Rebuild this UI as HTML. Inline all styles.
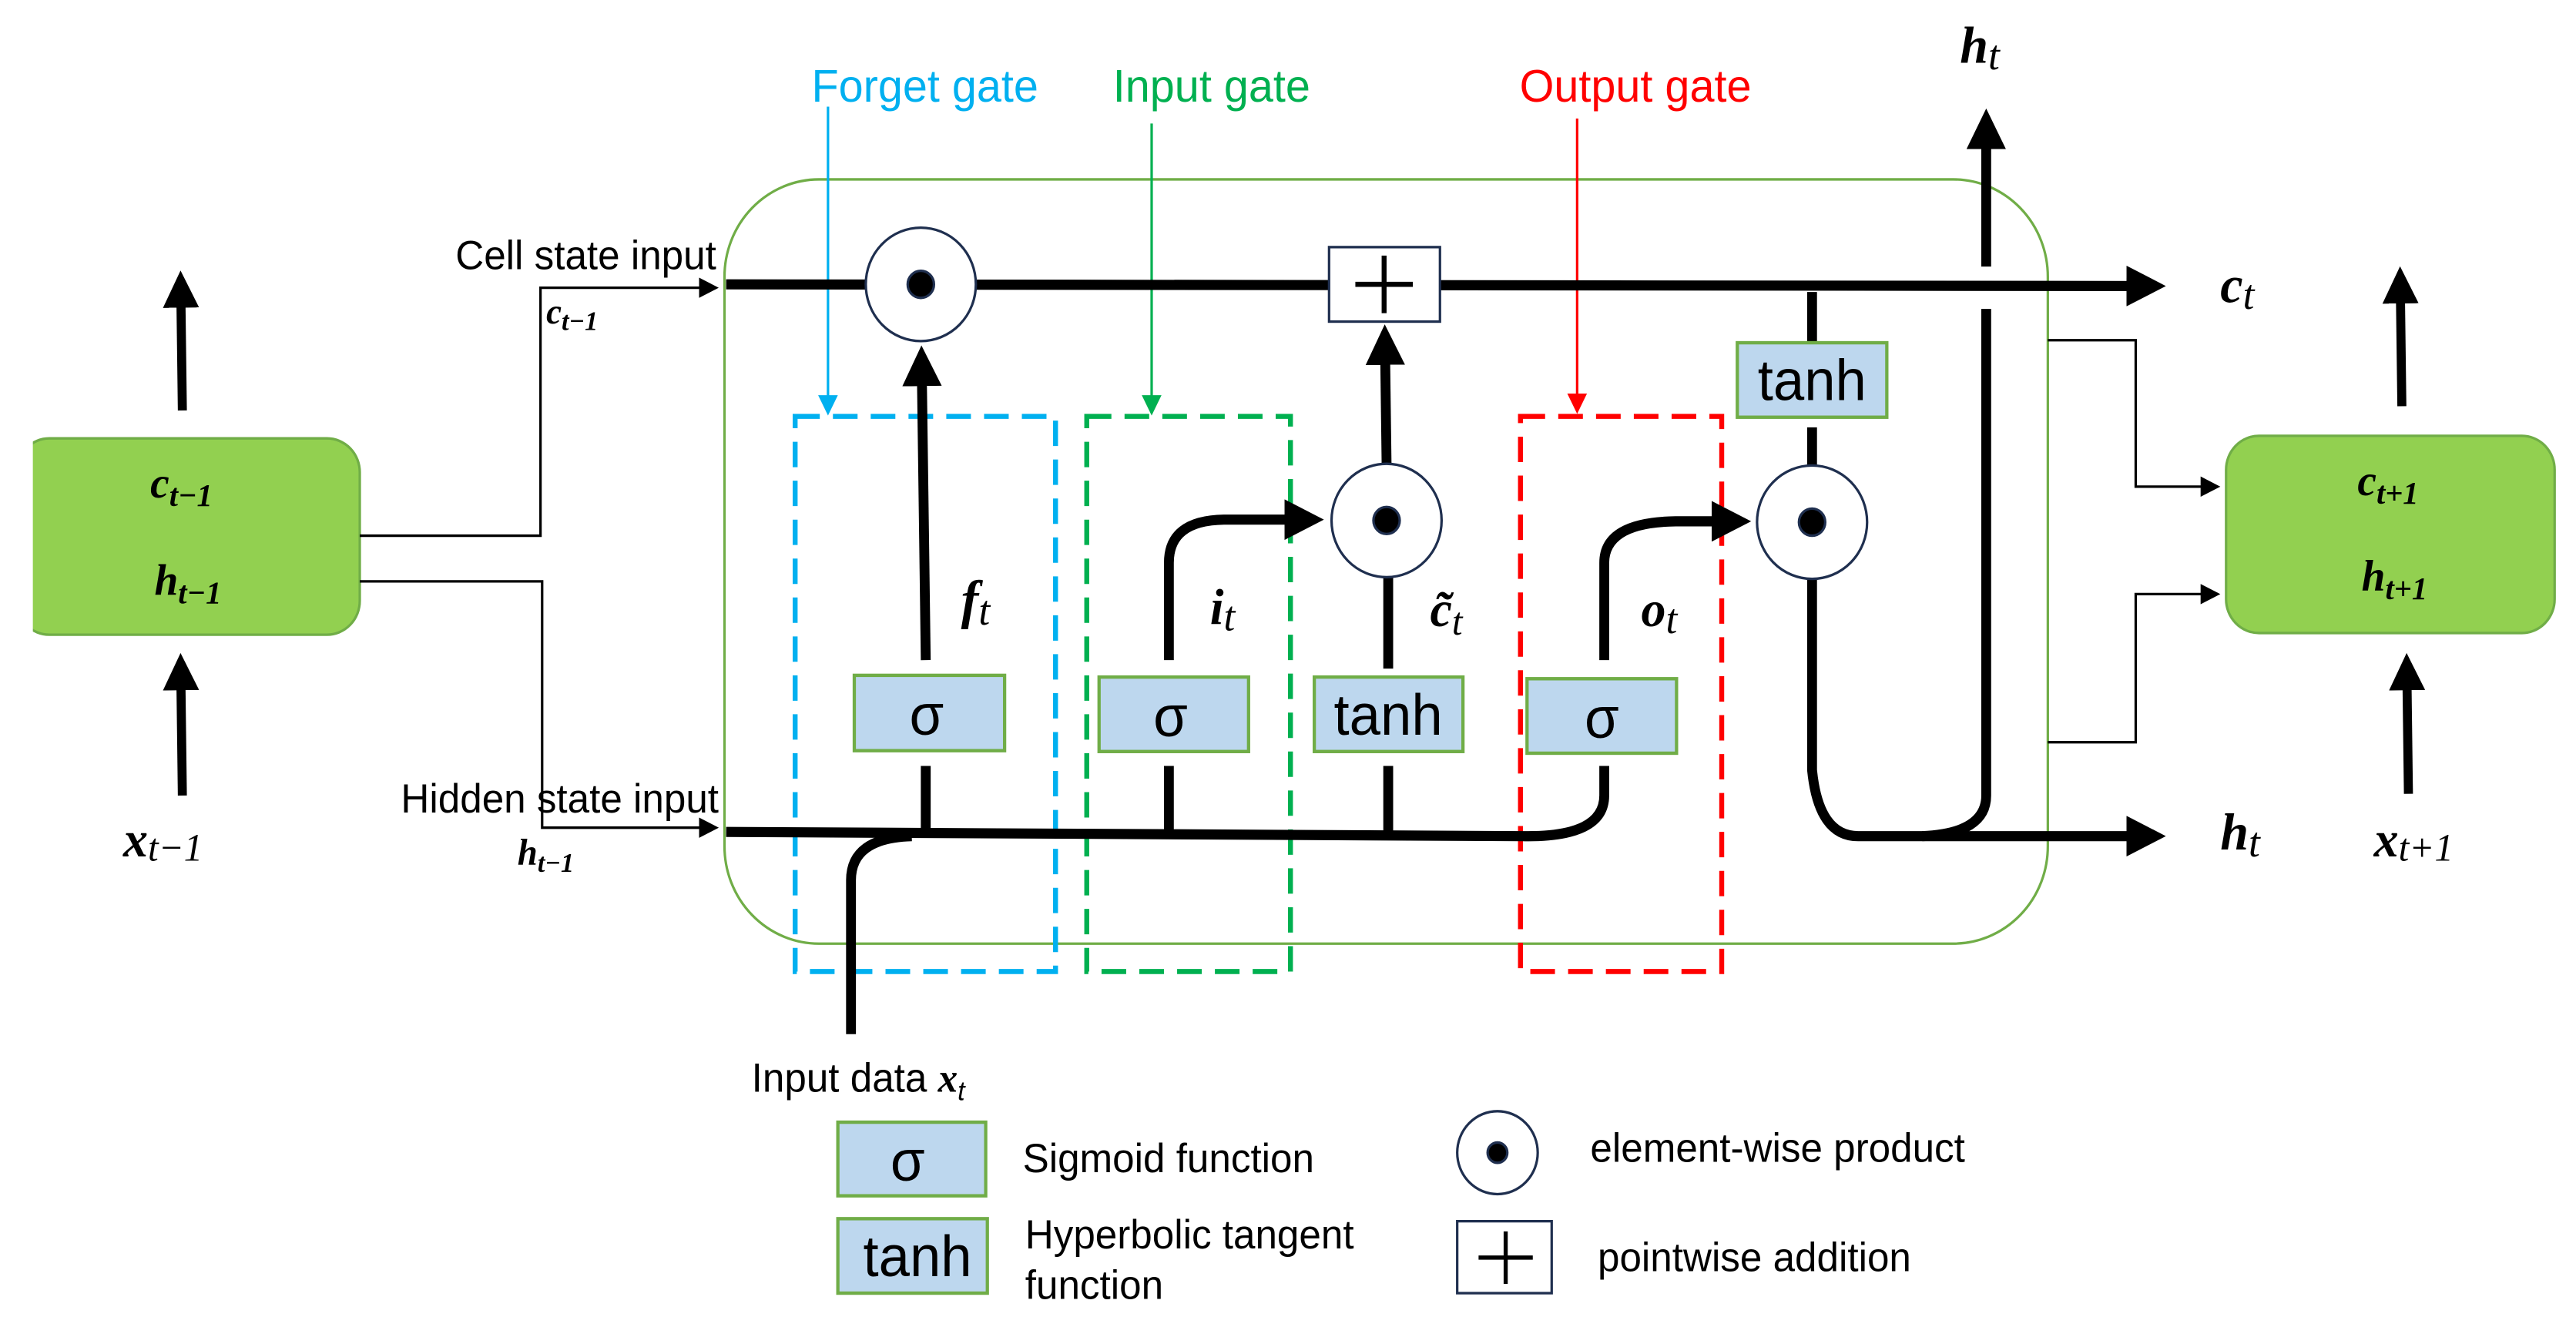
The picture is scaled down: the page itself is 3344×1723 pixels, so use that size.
<!DOCTYPE html>
<html><head><meta charset="utf-8"><style>
html,body{margin:0;padding:0;background:#fff;}
svg{display:block;}
.s{font-family:"Liberation Sans",sans-serif;}
.m{font-family:"Liberation Serif",serif;font-style:italic;font-weight:bold;}
</style></head><body>
<svg width="3344" height="1723" viewBox="0 0 3136 1568" preserveAspectRatio="none" xmlns="http://www.w3.org/2000/svg">
<defs>
<marker id="ab" markerWidth="4" markerHeight="4" refX="2.6" refY="2" orient="auto" markerUnits="strokeWidth"><path d="M0,0 L4,2 L0,4 z" fill="#000"/></marker>
<marker id="at" markerWidth="8" markerHeight="8" refX="7" refY="4" orient="auto" markerUnits="strokeWidth"><path d="M0,0 L8,4 L0,8 z" fill="#000"/></marker>
<marker id="ar" markerWidth="8" markerHeight="8" refX="7" refY="4" orient="auto" markerUnits="strokeWidth"><path d="M0,0 L8,4 L0,8 z" fill="#ff0000"/></marker>
<marker id="ag" markerWidth="8" markerHeight="8" refX="7" refY="4" orient="auto" markerUnits="strokeWidth"><path d="M0,0 L8,4 L0,8 z" fill="#00b050"/></marker>
<marker id="ac" markerWidth="8" markerHeight="8" refX="7" refY="4" orient="auto" markerUnits="strokeWidth"><path d="M0,0 L8,4 L0,8 z" fill="#00b0f0"/></marker>
</defs>

<rect x="882" y="212" width="1611" height="903" rx="115" fill="none" stroke="#70ad47" stroke-width="3"/>

<rect x="20" y="518" width="418" height="232" rx="40" fill="#92d050" stroke="#70ad47" stroke-width="3"/>
<rect x="0" y="510" width="40" height="250" fill="#fff"/>
<text class="m" x="183" y="588" font-size="52">c<tspan font-size="38" dy="10">t−1</tspan></text>
<text class="m" x="188" y="703" font-size="52">h<tspan font-size="38" dy="10">t−1</tspan></text>
<line x1="222" y1="485" x2="220" y2="335" stroke="#000" stroke-width="11" marker-end="url(#ab)"/>
<line x1="222" y1="940" x2="220" y2="787" stroke="#000" stroke-width="11" marker-end="url(#ab)"/>
<text class="m" x="150" y="1012" font-size="60">x<tspan font-size="46" font-weight="normal" dy="5">t−1</tspan></text>

<rect x="2710" y="515" width="400" height="233" rx="40" fill="#92d050" stroke="#70ad47" stroke-width="3"/>
<text class="m" x="2870" y="585" font-size="52">c<tspan font-size="38" dy="10">t+1</tspan></text>
<text class="m" x="2875" y="698" font-size="52">h<tspan font-size="38" dy="10">t+1</tspan></text>
<line x1="2924" y1="480" x2="2922" y2="330" stroke="#000" stroke-width="11" marker-end="url(#ab)"/>
<line x1="2932" y1="938" x2="2930" y2="787" stroke="#000" stroke-width="11" marker-end="url(#ab)"/>
<text class="m" x="2890" y="1012" font-size="60">x<tspan font-size="46" font-weight="normal" dy="5">t+1</tspan></text>

<polyline points="438,633 658,633 658,340 872,340" fill="none" stroke="#000" stroke-width="3" marker-end="url(#at)"/>
<polyline points="438,687 660,687 660,978 872,978" fill="none" stroke="#000" stroke-width="3" marker-end="url(#at)"/>
<polyline points="2493,402 2600,402 2600,575 2700,575" fill="none" stroke="#000" stroke-width="3" marker-end="url(#at)"/>
<polyline points="2493,877 2600,877 2600,702 2700,702" fill="none" stroke="#000" stroke-width="3" marker-end="url(#at)"/>

<text class="s" x="872" y="318" font-size="48" text-anchor="end">Cell state input</text>
<text class="m" x="665" y="382" font-size="42">c<tspan font-size="32" dy="8">t−1</tspan></text>
<text class="s" x="875" y="960" font-size="48" text-anchor="end">Hidden state input</text>
<text class="m" x="630" y="1022" font-size="44">h<tspan font-size="32" dy="8">t−1</tspan></text>

<rect x="968" y="492" width="317" height="656" fill="none" stroke="#00b0f0" stroke-width="6" stroke-dasharray="30,16"/>
<rect x="1323" y="492" width="248" height="656" fill="none" stroke="#00b050" stroke-width="6" stroke-dasharray="30,16"/>
<rect x="1851" y="492" width="245" height="656" fill="none" stroke="#ff0000" stroke-width="6" stroke-dasharray="30,16"/>
<text class="s" x="1126" y="120" font-size="54" fill="#00b0f0" text-anchor="middle">Forget gate</text>
<text class="s" x="1475" y="120" font-size="54" fill="#00b050" text-anchor="middle">Input gate</text>
<text class="s" x="1991" y="120" font-size="54" fill="#ff0000" text-anchor="middle">Output gate</text>
<line x1="1008" y1="126" x2="1008" y2="488" stroke="#00b0f0" stroke-width="3" marker-end="url(#ac)"/>
<line x1="1402" y1="146" x2="1402" y2="488" stroke="#00b050" stroke-width="3" marker-end="url(#ag)"/>
<line x1="1920" y1="140" x2="1920" y2="486" stroke="#ff0000" stroke-width="3" marker-end="url(#ar)"/>

<g fill="none" stroke="#000" stroke-width="12">
<line x1="884" y1="336" x2="2620" y2="338" marker-end="url(#ab)"/>
<path d="M884,983 L1853,988 Q1953,990 1953,940 L1953,905"/>
<path d="M1036,1222 L1036,1040 Q1036,990 1110,988"/>
<line x1="1127" y1="780" x2="1122" y2="425" marker-end="url(#ab)"/>
<line x1="1127" y1="905" x2="1127" y2="985"/>
<line x1="1423" y1="905" x2="1423" y2="987"/>
<path d="M1423,780 L1423,665 Q1423,615 1490,614 L1595,614" marker-end="url(#ab)"/>
<line x1="1688" y1="548" x2="1686" y2="400" marker-end="url(#ab)"/>
<line x1="1690" y1="790" x2="1690" y2="683"/>
<line x1="1690" y1="905" x2="1690" y2="988"/>
<path d="M1953,780 L1953,665 Q1953,617 2040,616 L2115,616" marker-end="url(#ab)"/>
<line x1="2206" y1="345" x2="2206" y2="405"/>
<line x1="2206" y1="505" x2="2206" y2="552"/>
<path d="M2206,685 L2206,910 Q2214,988 2262,988 L2620,988" marker-end="url(#ab)"/>
<path d="M2418,365 L2418,940 Q2418,985 2340,988"/>
<line x1="2418" y1="315" x2="2418" y2="145" marker-end="url(#ab)"/>
</g>

<g fill="#fff" stroke="#1f2f4f" stroke-width="3">
<circle cx="1121" cy="336" r="67"/>
<circle cx="1688" cy="615" r="67"/>
<circle cx="2206" cy="617" r="67"/>
</g>
<g fill="#000" stroke="#1f2f4f" stroke-width="3">
<circle cx="1121" cy="336" r="16"/>
<circle cx="1688" cy="615" r="16"/>
<circle cx="2206" cy="617" r="16"/>
</g>

<rect x="1618" y="292" width="135" height="88" fill="#fff" stroke="#1f2f4f" stroke-width="3"/>
<line x1="1650" y1="336" x2="1720" y2="336" stroke="#000" stroke-width="6"/>
<line x1="1685" y1="302" x2="1685" y2="370" stroke="#000" stroke-width="6"/>

<g fill="#bdd7ee" stroke="#70ad47" stroke-width="4">
<rect x="1040" y="798" width="183" height="89"/>
<rect x="1338" y="800" width="182" height="88"/>
<rect x="1600" y="800" width="181" height="88"/>
<rect x="1859" y="802" width="182" height="88"/>
<rect x="2115" y="405" width="182" height="88"/>
<rect x="1020" y="1326" width="180" height="87"/>
<rect x="1020" y="1440" width="182" height="88"/>
</g>
<g class="s" font-size="68" text-anchor="middle" fill="#000">
<text x="1128" y="868">σ</text>
<text x="1425" y="870">σ</text>
<text x="1690" y="868">tanh</text>
<text x="1950" y="872">σ</text>
<text x="2206" y="473">tanh</text>
<text x="1105" y="1395">σ</text>
<text x="1117" y="1508">tanh</text>
</g>

<text class="m" x="1170" y="730" font-size="64">f<tspan font-size="50" font-weight="normal" dy="8">t</tspan></text>
<text class="m" x="1473" y="737" font-size="60">i<tspan font-size="50" font-weight="normal" dy="8">t</tspan></text>
<text class="m" x="1741" y="740" font-size="60">c̃<tspan font-size="46" font-weight="normal" dy="10">t</tspan></text>
<text class="m" x="1998" y="740" font-size="60">o<tspan font-size="50" font-weight="normal" dy="8">t</tspan></text>
<text class="m" x="2386" y="74" font-size="62">h<tspan font-size="50" font-weight="normal" dy="8">t</tspan></text>
<text class="m" x="2703" y="357" font-size="62">c<tspan font-size="50" font-weight="normal" dy="8">t</tspan></text>
<text class="m" x="2703" y="1004" font-size="62">h<tspan font-size="50" font-weight="normal" dy="8">t</tspan></text>

<text class="s" x="915" y="1290" font-size="48">Input data <tspan font-family="Liberation Serif" font-style="italic" font-weight="bold">x</tspan><tspan font-size="32" font-style="italic" dy="10">t</tspan></text>

<text class="s" x="1245" y="1385" font-size="48">Sigmoid function</text>
<text class="s" x="1248" y="1475" font-size="48">Hyperbolic tangent</text>
<text class="s" x="1248" y="1535" font-size="48">function</text>
<circle cx="1823" cy="1362" r="49" fill="#fff" stroke="#1f2f4f" stroke-width="3"/>
<circle cx="1823" cy="1362" r="12" fill="#000" stroke="#1f2f4f" stroke-width="3"/>
<text class="s" x="1936" y="1373" font-size="48">element-wise product</text>
<rect x="1774" y="1443" width="115" height="85" fill="#fff" stroke="#1f2f4f" stroke-width="3"/>
<line x1="1800" y1="1486" x2="1866" y2="1486" stroke="#000" stroke-width="5"/>
<line x1="1833" y1="1455" x2="1833" y2="1517" stroke="#000" stroke-width="5"/>
<text class="s" x="1945" y="1502" font-size="48">pointwise addition</text>
</svg>
</body></html>
